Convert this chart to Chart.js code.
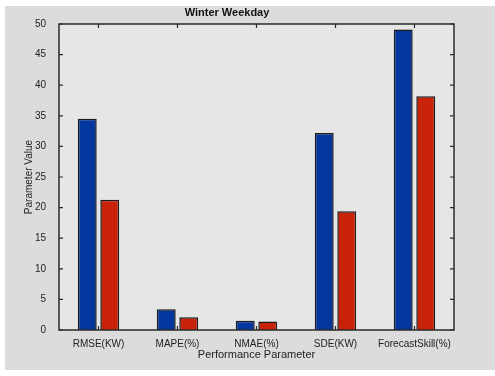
<!DOCTYPE html>
<html>
<head>
<meta charset="utf-8">
<script src="https://cdn.jsdelivr.net/npm/chart.js@4"></script>
<style>
  html, body { margin: 0; padding: 0; background: #fff; }
  #wrap { width: 495px; height: 376px; }
</style>
</head>
<body>
<div id="wrap"><canvas id="barChart" width="495" height="376"></canvas></div>
<script>
var categories = ["RMSE(KW)", "MAPE(%)", "NMAE(%)", "SDE(KW)", "ForecastSkill(%)"];
var blueValues = [34.5, 3.4, 1.5, 32.2, 49.1];
var redValues = [21.3, 2.1, 1.4, 19.4, 38.2];
var yTicks = [0, 5, 10, 15, 20, 25, 30, 35, 40, 45, 50];

// grey figure background, plot box and inward ticks like matlab
var matlabLook = {
    id: "matlabLook",
    beforeDraw: function (chart) {
        var ctx = chart.ctx;
        var a = chart.chartArea;
        ctx.save();
        ctx.fillStyle = "#ffffff";
        ctx.fillRect(0, 0, chart.width, chart.height);
        ctx.fillStyle = "#dcdcdc";
        ctx.fillRect(5, 6, chart.width - 5, 364);
        ctx.fillStyle = "#e6e6e6";
        ctx.fillRect(a.left, a.top, a.right - a.left, a.bottom - a.top);
        ctx.restore();
    },
    afterDraw: function (chart) {
        var ctx = chart.ctx;
        var a = chart.chartArea;
        var x = chart.scales.x;
        var y = chart.scales.y;
        ctx.save();
        ctx.strokeStyle = "#2a2a2a";
        ctx.lineWidth = 1.5;
        ctx.strokeRect(a.left, a.top, a.right - a.left, a.bottom - a.top);
        ctx.lineWidth = 1.2;
        ctx.beginPath();
        yTicks.forEach(function (v) {
            var py = y.getPixelForValue(v);
            ctx.moveTo(a.left, py); ctx.lineTo(a.left + 4, py);
            ctx.moveTo(a.right, py); ctx.lineTo(a.right - 4, py);
        });
        categories.forEach(function (c, i) {
            var px = x.getPixelForTick(i);
            ctx.moveTo(px, a.top); ctx.lineTo(px, a.top + 4);
            ctx.moveTo(px, a.bottom); ctx.lineTo(px, a.bottom - 4);
        });
        ctx.stroke();
        ctx.restore();
    }
};

new Chart("barChart", {
    type: "bar",
    data: {
        labels: categories,
        datasets: [{
            data: blueValues,
            backgroundColor: "#0436a0",
            borderColor: "#1a1a1a",
            borderWidth: 1.5
        }, {
            data: redValues,
            backgroundColor: "#c8220a",
            borderColor: "#1a1a1a",
            borderWidth: 1.5
        }]
    },
    options: {
        responsive: false,
        animation: false,
        devicePixelRatio: 1,
        categoryPercentage: 0.57,
        barPercentage: 0.84,
        layout: { padding: { left: 0, right: 41, top: 0, bottom: 14 } },
        plugins: {
            legend: { display: false },
            tooltip: { enabled: false },
            title: {
                display: true,
                text: "Winter Weekday",
                color: "#111",
                font: { family: "Liberation Sans", size: 11, weight: "bold" },
                padding: { top: 6, bottom: 4.8 }
            }
        },
        scales: {
            x: {
                grid: { display: false, drawTicks: false },
                border: { display: false },
                ticks: {
                    color: "#222",
                    padding: 8,
                    maxRotation: 0,
                    autoSkip: false,
                    font: { family: "Liberation Sans", size: 10 }
                },
                title: {
                    display: true,
                    text: "Performance Parameter",
                    color: "#222",
                    padding: { top: 0, bottom: 0 },
                    font: { family: "Liberation Sans", size: 11 }
                },
                afterFit: function (s) { s.height = 32; }
            },
            y: {
                min: 0,
                max: 50,
                grid: { display: false, drawTicks: false },
                border: { display: false },
                ticks: {
                    stepSize: 5,
                    color: "#222",
                    padding: 13,
                    font: { family: "Liberation Sans", size: 10 }
                },
                title: {
                    display: true,
                    text: "Parameter Value",
                    color: "#222",
                    padding: { top: 23, bottom: 0 },
                    font: { family: "Liberation Sans", size: 10 }
                },
                afterFit: function (s) { s.width = 59; }
            }
        }
    },
    plugins: [matlabLook]
});
</script>
</body>
</html>
